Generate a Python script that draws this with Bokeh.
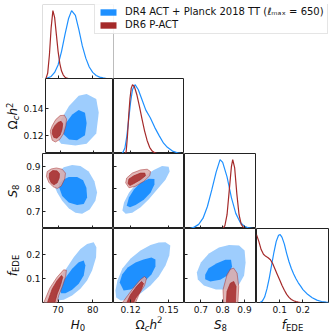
import numpy as np
from bokeh.plotting import figure
from bokeh.layouts import column, row
from bokeh.models import Range1d, FixedTicker, LinearAxis, Legend, LegendItem, Label, BoxAnnotation
from bokeh.embed import file_html
from bokeh.resources import INLINE

# ---------------- data ----------------
LEGEND_LABELS = ["DR4 ACT + Planck 2018 TT (ℓₘₐₓ = 650)", "DR6 P-ACT"]

H0_RANGE = (65.5, 86.0)
OMC_RANGE = (0.1065, 0.1625)
S8_RANGE = (0.625, 0.955)
FEDE_RANGE = (0.0, 0.31)
PDF_RANGE = (0.0, 1.09)

H0_TICKS = [70, 80]
OMC_XTICKS = [0.12, 0.15]
OMC_YTICKS = [0.12, 0.14]
S8_TICKS = [0.7, 0.8, 0.9]
FEDE_TICKS = [0.1, 0.2]

# 1D marginals
H0_GRID_BLUE = [66.5, 68, 69, 70, 71, 72, 73, 73.9, 75, 76, 77, 78, 79, 80, 81, 82, 83, 84]
H0_PDF_BLUE = [0.0, 0.03, 0.09, 0.2, 0.4, 0.65, 0.88, 1.0, 0.93, 0.72, 0.48, 0.3, 0.17, 0.09, 0.045, 0.02, 0.008, 0.0]
H0_GRID_RED = [66.5, 67, 67.5, 68, 68.5, 69, 69.5, 70, 70.5, 71, 71.5, 72, 72.5, 73]
H0_PDF_RED = [0.0, 0.08, 0.35, 0.75, 1.0, 0.9, 0.65, 0.4, 0.22, 0.11, 0.05, 0.02, 0.005, 0.0]

OMC_GRID_BLUE = [0.1135, 0.1155, 0.117, 0.1185, 0.120, 0.1215, 0.1235, 0.126, 0.129, 0.132, 0.1355, 0.139, 0.1425, 0.146, 0.149, 0.153, 0.157, 0.160]
OMC_PDF_BLUE = [0.0, 0.08, 0.25, 0.5, 0.75, 0.93, 1.0, 0.93, 0.78, 0.63, 0.52, 0.38, 0.26, 0.15, 0.09, 0.035, 0.01, 0.0]
OMC_GRID_RED = [0.1158, 0.1165, 0.1175, 0.1185, 0.1195, 0.1205, 0.1215, 0.123, 0.125, 0.127, 0.129, 0.131, 0.133, 0.135, 0.137, 0.139, 0.141]
OMC_PDF_RED = [0.0, 0.03, 0.25, 0.55, 0.8, 0.95, 1.0, 0.97, 0.85, 0.68, 0.5, 0.33, 0.19, 0.09, 0.035, 0.01, 0.0]

S8_GRID_BLUE = [0.65, 0.67, 0.69, 0.71, 0.73, 0.75, 0.77, 0.788, 0.80, 0.82, 0.84, 0.86, 0.88, 0.90, 0.92, 0.94]
S8_PDF_BLUE = [0.0, 0.02, 0.06, 0.15, 0.32, 0.56, 0.82, 1.0, 0.96, 0.75, 0.45, 0.22, 0.09, 0.03, 0.008, 0.0]
S8_GRID_RED = [0.80, 0.81, 0.82, 0.83, 0.84, 0.846, 0.855, 0.865, 0.875, 0.885, 0.895, 0.905]
S8_PDF_RED = [0.0, 0.04, 0.2, 0.55, 0.9, 1.0, 0.88, 0.5, 0.2, 0.06, 0.015, 0.0]

FEDE_GRID_BLUE = [0.015, 0.025, 0.035, 0.045, 0.055, 0.065, 0.075, 0.085, 0.095, 0.102, 0.11, 0.12, 0.13, 0.14, 0.15, 0.16, 0.17, 0.18, 0.19, 0.20, 0.22, 0.24, 0.26, 0.28, 0.30, 0.31]
FEDE_PDF_BLUE = [0.0, 0.02, 0.08, 0.2, 0.36, 0.55, 0.74, 0.9, 0.99, 1.0, 0.96, 0.86, 0.72, 0.6, 0.5, 0.42, 0.35, 0.29, 0.24, 0.19, 0.12, 0.07, 0.035, 0.015, 0.005, 0.002]
FEDE_GRID_RED = [0.0, 0.01, 0.02, 0.03, 0.04, 0.05, 0.06, 0.07, 0.08, 0.09, 0.10, 0.11, 0.12, 0.13, 0.14, 0.15, 0.16, 0.17, 0.18, 0.19]
FEDE_PDF_RED = [1.0, 0.9, 0.78, 0.71, 0.68, 0.66, 0.63, 0.57, 0.49, 0.41, 0.33, 0.25, 0.18, 0.12, 0.075, 0.045, 0.025, 0.012, 0.005, 0.0]

# 2D contours (outer = 95%, inner = 68%)
BLUE_H0_OMC_OUT_X = [68.76, 70.2, 74.5, 77.9, 80.8, 81.55, 80.8, 77.9, 75.5, 72.6, 70.2, 69.0]
BLUE_H0_OMC_OUT_Y = [0.1189, 0.1138, 0.1125, 0.1138, 0.1215, 0.1369, 0.1472, 0.151, 0.1497, 0.142, 0.1318, 0.1241]
BLUE_H0_OMC_IN_X = [70.69, 72.62, 75.01, 77.4, 77.9, 77.4, 75.5, 73.57, 71.64, 70.5]
BLUE_H0_OMC_IN_Y = [0.1215, 0.1169, 0.1164, 0.1202, 0.1292, 0.1369, 0.1389, 0.1356, 0.1292, 0.1241]
RED_H0_OMC_OUT_X = [67.14, 67.52, 68.47, 69.74, 70.98, 71.64, 71.84, 71.18, 69.91, 68.58, 67.52, 66.94]
RED_H0_OMC_OUT_Y = [0.1202, 0.1164, 0.1151, 0.1169, 0.1215, 0.1272, 0.1323, 0.1351, 0.1348, 0.1318, 0.1272, 0.1233]
RED_H0_OMC_IN_X = [67.52, 68.01, 68.96, 69.91, 70.49, 70.69, 70.2, 69.25, 68.3, 67.6]
RED_H0_OMC_IN_Y = [0.1215, 0.1185, 0.1179, 0.1202, 0.1246, 0.1287, 0.1305, 0.1297, 0.1272, 0.1241]

BLUE_H0_S8_OUT_X = [68.76, 69.74, 71.18, 73.08, 75.01, 76.94, 79.13, 80.77, 81.26, 80.48, 78.84, 76.45, 74.06, 71.64, 69.91, 68.96]
BLUE_H0_S8_OUT_Y = [0.8185, 0.783, 0.7468, 0.7142, 0.694, 0.6897, 0.7082, 0.7468, 0.783, 0.833, 0.876, 0.9, 0.9043, 0.8944, 0.8687, 0.8429]
BLUE_H0_S8_IN_X = [70.2, 71.18, 73.08, 75.5, 77.4, 78.38, 78.18, 77.23, 75.5, 73.08, 71.18, 70.31]
BLUE_H0_S8_IN_Y = [0.8112, 0.7682, 0.7399, 0.7283, 0.7326, 0.7614, 0.8043, 0.8369, 0.8515, 0.8515, 0.8369, 0.8227]
RED_H0_S8_OUT_X = [66.85, 66.65, 67.32, 68.58, 69.74, 70.89, 71.93, 72.13, 71.18, 69.53, 68.01]
RED_H0_S8_OUT_Y = [0.8755, 0.8541, 0.8283, 0.8086, 0.8013, 0.8112, 0.8429, 0.8687, 0.8858, 0.8914, 0.8871]
RED_H0_S8_IN_X = [67.52, 67.43, 68.01, 68.76, 69.74, 70.31, 70.4, 69.74, 68.47]
RED_H0_S8_IN_Y = [0.8687, 0.8472, 0.8258, 0.8172, 0.8258, 0.8472, 0.8657, 0.8785, 0.8798]

BLUE_H0_FEDE_OUT_X = [68.58, 69.25, 70.69, 72.62, 74.52, 76.45, 78.38, 80.28, 81.06, 80.97, 79.82, 78.38, 76.45, 74.06, 71.64, 69.74]
BLUE_H0_FEDE_OUT_Y = [0.0222, 0.0641, 0.106, 0.1479, 0.1898, 0.2245, 0.2455, 0.2522, 0.2313, 0.1893, 0.134, 0.0922, 0.0574, 0.0293, 0.0113, 0.0084]
BLUE_H0_FEDE_IN_X = [70.49, 71.18, 72.62, 74.06, 75.96, 77.4, 77.89, 77.4, 75.96, 74.06, 72.13, 70.89]
BLUE_H0_FEDE_IN_Y = [0.0574, 0.085, 0.1131, 0.1412, 0.1688, 0.176, 0.155, 0.1131, 0.0783, 0.0532, 0.039, 0.039]
RED_H0_FEDE_OUT_X = [65.6, 67.6, 69.7, 71.6, 72.4, 72.2, 71.2, 70.2, 69.5]
RED_H0_FEDE_OUT_Y = [-0.01, 0.06, 0.106, 0.137, 0.135, 0.11, 0.066, 0.03, -0.01]
RED_H0_FEDE_IN_X = [66.7, 68.3, 69.74, 70.98, 71.35, 70.69, 69.74, 68.9]
RED_H0_FEDE_IN_Y = [-0.01, 0.057, 0.092, 0.113, 0.106, 0.071, 0.036, -0.01]

BLUE_OMC_S8_OUT_X = [0.1135, 0.1148, 0.1187, 0.1239, 0.1304, 0.1383, 0.1448, 0.15, 0.1508, 0.1475, 0.1409, 0.1344, 0.1279, 0.1213, 0.1161]
BLUE_OMC_S8_OUT_Y = [0.7039, 0.7399, 0.7828, 0.8185, 0.8541, 0.8828, 0.9, 0.897, 0.8755, 0.84, 0.797, 0.7541, 0.7185, 0.694, 0.6897]
BLUE_OMC_S8_IN_X = [0.1169, 0.1187, 0.1226, 0.1278, 0.1343, 0.1388, 0.1388, 0.1357, 0.1304, 0.1239, 0.1195]
BLUE_OMC_S8_IN_Y = [0.7253, 0.7614, 0.797, 0.8258, 0.8442, 0.8429, 0.8185, 0.7828, 0.7511, 0.7283, 0.7185]
RED_OMC_S8_OUT_X = [0.1161, 0.1169, 0.1213, 0.1278, 0.1331, 0.1357, 0.1351, 0.1304, 0.1239, 0.1187]
RED_OMC_S8_OUT_Y = [0.8258, 0.8472, 0.8687, 0.8828, 0.8858, 0.8755, 0.8571, 0.8326, 0.8112, 0.8043]
RED_OMC_S8_IN_X = [0.1179, 0.1187, 0.1226, 0.1278, 0.1312, 0.1317, 0.1278, 0.1226, 0.1195]
RED_OMC_S8_IN_Y = [0.8227, 0.8429, 0.8571, 0.8687, 0.8687, 0.8571, 0.8399, 0.8227, 0.8142]

BLUE_OMC_FEDE_OUT_X = [0.108, 0.1096, 0.1135, 0.12, 0.1278, 0.1357, 0.1422, 0.1475, 0.1513, 0.1505, 0.1475, 0.1422, 0.1357, 0.1278, 0.12, 0.1122, 0.1086]
BLUE_OMC_FEDE_OUT_Y = [0.0503, 0.0922, 0.1424, 0.1843, 0.2178, 0.2409, 0.2514, 0.2526, 0.2388, 0.1969, 0.155, 0.1089, 0.0712, 0.0377, 0.0126, 0.0084, 0.021]
BLUE_OMC_FEDE_IN_X = [0.1114, 0.1133, 0.1177, 0.1239, 0.1302, 0.1364, 0.1396, 0.1396, 0.1364, 0.1317, 0.1263, 0.12, 0.1145]
BLUE_OMC_FEDE_IN_Y = [0.0838, 0.1173, 0.1466, 0.1676, 0.1801, 0.1885, 0.1801, 0.1508, 0.1173, 0.0922, 0.0712, 0.0545, 0.0503]
RED_OMC_FEDE_OUT_X = [0.1122, 0.1177, 0.1231, 0.1278, 0.131, 0.1325, 0.131, 0.127, 0.1231]
RED_OMC_FEDE_OUT_Y = [-0.01, 0.0293, 0.067, 0.0964, 0.1089, 0.1005, 0.0712, 0.0377, -0.01]
RED_OMC_FEDE_IN_X = [0.1161, 0.12, 0.1247, 0.1286, 0.1302, 0.1278, 0.1239, 0.1216]
RED_OMC_FEDE_IN_Y = [-0.01, 0.0335, 0.067, 0.088, 0.0796, 0.0461, 0.0168, -0.01]

BLUE_S8_FEDE_OUT_X = [0.6816, 0.70, 0.7369, 0.7829, 0.829, 0.8751, 0.9005, 0.905, 0.8981, 0.8751, 0.829, 0.7691, 0.7138, 0.6862]
BLUE_S8_FEDE_OUT_Y = [0.1257, 0.1676, 0.2053, 0.2304, 0.2409, 0.2388, 0.2179, 0.1676, 0.1131, 0.0754, 0.0545, 0.0545, 0.0712, 0.0964]
BLUE_S8_FEDE_IN_X = [0.7198, 0.7355, 0.7737, 0.812, 0.8382, 0.8429, 0.8276, 0.7889, 0.7429, 0.7198]
BLUE_S8_FEDE_IN_Y = [0.116, 0.1437, 0.1646, 0.1789, 0.1789, 0.1508, 0.116, 0.0951, 0.088, 0.0976]
RED_S8_FEDE_OUT_X = [0.8507, 0.8659, 0.8737, 0.8691, 0.8046, 0.8014, 0.8198, 0.835]
RED_S8_FEDE_OUT_Y = [0.1437, 0.1227, 0.067, -0.01, -0.01, 0.0532, 0.116, 0.1395]
RED_S8_FEDE_IN_X = [0.8166, 0.8198, 0.835, 0.8507, 0.8613, 0.8581]
RED_S8_FEDE_IN_Y = [-0.01, 0.0461, 0.0808, 0.088, 0.067, -0.01]

# ---------------- style / layout ----------------
BLUE = "#1E90FF"
BLUE_LIGHT = "#9ECDFD"
RED = "#A52A2A"
RED_LIGHT = "#DBAAAA"
FRAME = "#222222"
FONT = "DejaVu Sans"
TICK_SIZE = "9px"

STRIP_W = 20                 # strip holding the rotated y labels
TICK_W = 22                  # room for y tick labels
L = STRIP_W + TICK_W         # frames start at x=42
CW = [71, 71, 72, 72]        # column widths
RH = [74, 75, 75, 74]        # row heights
TOP = 4
RIGHT = 4
TICK_H = 14                  # room for x tick labels
STRIP_H = 17                 # strip holding x labels
TOTAL_W = L + sum(CW) + RIGHT


def make_fig(xr, yr, w, h, left=0, bottom=0, right=0, top=0, outline=True):
    p = figure(width=w, height=h, x_range=Range1d(*xr), y_range=Range1d(*yr),
               x_axis_type=None, y_axis_type=None,
               output_backend="svg", toolbar_location=None)
    p.min_border = 0
    p.min_border_left = left
    p.min_border_right = right
    p.min_border_top = top
    p.min_border_bottom = bottom
    p.outline_line_color = FRAME if outline else None
    p.outline_line_width = 1
    p.background_fill_color = "white"
    p.border_fill_color = "white"
    return p


def add_axis(p, side, ticks, labels, loc=None):
    ax = LinearAxis(ticker=FixedTicker(ticks=ticks))
    ax.major_tick_in = 3
    ax.major_tick_out = 0
    ax.minor_tick_in = 0
    ax.minor_tick_out = 0
    ax.axis_line_color = None
    ax.major_tick_line_color = FRAME
    ax.major_label_text_font = FONT
    ax.major_label_text_font_size = TICK_SIZE
    ax.major_label_standoff = 3 if side == "below" else 2
    if labels:
        ax.major_label_text_color = "#111111"
    else:
        ax.major_label_text_color = None
        ax.fixed_location = loc
    p.add_layout(ax, side)


EM = {"H": 0.752, "0": 0.636, "Ω": 0.764, "c": 0.55, "h": 0.634, "2": 0.636,
      "S": 0.635, "8": 0.636, "f": 0.352, "E": 0.632, "D": 0.770}


def tw(s, size):
    return sum(EM.get(ch, 0.6) for ch in s) * size


def rich_label(p, pieces, cx, cy, vertical):
    """Label made of pieces (text, size, style, shift) centred at cx/cy (strip pixels)."""
    total = sum(tw(t, s) for t, s, st, sh in pieces)
    pos = -total / 2.0
    for t, s, st, sh in pieces:
        kw = dict(text=t, text_font=FONT, text_font_size=f"{s}px",
                  text_font_style=st, text_align="left", text_baseline="alphabetic",
                  text_color="#111111")
        if vertical:
            lab = Label(x=cx - sh, y=cy + pos, angle=np.pi / 2, **kw)
        else:
            lab = Label(x=cx + pos, y=cy + sh, **kw)
        p.add_layout(lab)
        pos += tw(t, s)


LAB_H0 = [("H", 12, "italic", 0), ("0", 8.5, "normal", -3)]
LAB_OMC = [("Ω", 12, "normal", 0), ("c", 8.5, "italic", -2.5), ("h", 12, "italic", 0), ("2", 8.5, "normal", 4)]
LAB_S8 = [("S", 12, "italic", 0), ("8", 8.5, "normal", -2.5)]
LAB_FEDE = [("f", 12, "italic", 0), ("EDE", 8.5, "normal", -2.5)]
LAB_OMC_X = [("Ω", 12, "normal", 0), ("c", 8.5, "italic", -3), ("h", 12, "italic", 0), ("2", 8.5, "normal", 5)]
LAB_S8_X = [("S", 12, "italic", 0), ("8", 8.5, "normal", -3)]
LAB_FEDE_X = [("f", 12, "italic", 0), ("EDE", 8.5, "normal", -3)]


def line1d(p, xs, ys, color):
    p.line(xs, ys, line_color=color, line_width=1.2)


def contours(p, bo, bi, ro, ri):
    p.patch(bo[0], bo[1], fill_color=BLUE_LIGHT, line_color=None)
    p.patch(bi[0], bi[1], fill_color=BLUE, line_color=None)
    p.patch(ro[0], ro[1], fill_color=RED_LIGHT, fill_alpha=0.85, line_color=RED, line_width=0.7, line_alpha=0.7)
    p.patch(ri[0], ri[1], fill_color=RED, fill_alpha=0.85, line_color=RED, line_width=0.7)


def y_strip(height, label, bottom=0):
    s = make_fig((0, STRIP_W), (0, height - bottom), STRIP_W, height, bottom=bottom, outline=False)
    rich_label(s, label, STRIP_W - 7.5, (height - bottom) / 2.0, True)
    return s


# ---- row 0: H0 marginal with a wide frame that also hosts the legend ----
wide_w = TOTAL_W - L - RIGHT
h0_span = H0_RANGE[1] - H0_RANGE[0]
p00 = make_fig((H0_RANGE[0], H0_RANGE[0] + h0_span * wide_w / CW[0]), PDF_RANGE,
               TOTAL_W, RH[0] + TOP, left=L, right=RIGHT, top=TOP, outline=False)
p00.add_layout(BoxAnnotation(left=H0_RANGE[0], right=H0_RANGE[1], bottom=PDF_RANGE[0], top=PDF_RANGE[1],
                             fill_color=None, line_color=FRAME, line_width=1))
add_axis(p00, "below", H0_TICKS, False, PDF_RANGE[0])
line1d(p00, H0_GRID_BLUE, H0_PDF_BLUE, BLUE)
line1d(p00, H0_GRID_RED, H0_PDF_RED, RED)
# hidden filled proxies (areas under the marginals) that give the legend its colour patches
lb = p00.patch(H0_GRID_BLUE, H0_PDF_BLUE, fill_color=BLUE, line_color=None, visible=False)
lr = p00.patch(H0_GRID_RED, H0_PDF_RED, fill_color=RED, line_color=None, visible=False)
legend = Legend(items=[LegendItem(label=LEGEND_LABELS[0], renderers=[lb]),
                       LegendItem(label=LEGEND_LABELS[1], renderers=[lr])],
                location=(52, 44), glyph_width=20, glyph_height=8, label_height=11,
                label_standoff=7, spacing=2, padding=3, margin=0,
                label_text_font=FONT, label_text_font_size="10px", label_text_color="#111111",
                border_line_color="#cccccc", border_line_width=1,
                background_fill_color="white", background_fill_alpha=0.85,
                inactive_fill_alpha=0.0)
p00.add_layout(legend)

# ---- row 1 ----
p10 = make_fig(H0_RANGE, OMC_RANGE, TICK_W + CW[0], RH[1], left=TICK_W)
add_axis(p10, "below", H0_TICKS, False, OMC_RANGE[0])
add_axis(p10, "left", OMC_YTICKS, True)
contours(p10, (BLUE_H0_OMC_OUT_X, BLUE_H0_OMC_OUT_Y), (BLUE_H0_OMC_IN_X, BLUE_H0_OMC_IN_Y),
         (RED_H0_OMC_OUT_X, RED_H0_OMC_OUT_Y), (RED_H0_OMC_IN_X, RED_H0_OMC_IN_Y))

p11 = make_fig(OMC_RANGE, PDF_RANGE, CW[1], RH[1])
add_axis(p11, "below", OMC_XTICKS, False, PDF_RANGE[0])
line1d(p11, OMC_GRID_BLUE, OMC_PDF_BLUE, BLUE)
line1d(p11, OMC_GRID_RED, OMC_PDF_RED, RED)

# ---- row 2 ----
p20 = make_fig(H0_RANGE, S8_RANGE, TICK_W + CW[0], RH[2], left=TICK_W)
add_axis(p20, "below", H0_TICKS, False, S8_RANGE[0])
add_axis(p20, "left", S8_TICKS, True)
contours(p20, (BLUE_H0_S8_OUT_X, BLUE_H0_S8_OUT_Y), (BLUE_H0_S8_IN_X, BLUE_H0_S8_IN_Y),
         (RED_H0_S8_OUT_X, RED_H0_S8_OUT_Y), (RED_H0_S8_IN_X, RED_H0_S8_IN_Y))

p21 = make_fig(OMC_RANGE, S8_RANGE, CW[1], RH[2])
add_axis(p21, "below", OMC_XTICKS, False, S8_RANGE[0])
add_axis(p21, "left", S8_TICKS, False, OMC_RANGE[0])
contours(p21, (BLUE_OMC_S8_OUT_X, BLUE_OMC_S8_OUT_Y), (BLUE_OMC_S8_IN_X, BLUE_OMC_S8_IN_Y),
         (RED_OMC_S8_OUT_X, RED_OMC_S8_OUT_Y), (RED_OMC_S8_IN_X, RED_OMC_S8_IN_Y))

p22 = make_fig(S8_RANGE, PDF_RANGE, CW[2], RH[2])
add_axis(p22, "below", S8_TICKS, False, PDF_RANGE[0])
line1d(p22, S8_GRID_BLUE, S8_PDF_BLUE, BLUE)
line1d(p22, S8_GRID_RED, S8_PDF_RED, RED)

# ---- row 3 ----
p30 = make_fig(H0_RANGE, FEDE_RANGE, TICK_W + CW[0], RH[3] + TICK_H, left=TICK_W, bottom=TICK_H)
add_axis(p30, "below", H0_TICKS, True)
add_axis(p30, "left", FEDE_TICKS, True)
contours(p30, (BLUE_H0_FEDE_OUT_X, BLUE_H0_FEDE_OUT_Y), (BLUE_H0_FEDE_IN_X, BLUE_H0_FEDE_IN_Y),
         (RED_H0_FEDE_OUT_X, RED_H0_FEDE_OUT_Y), (RED_H0_FEDE_IN_X, RED_H0_FEDE_IN_Y))

p31 = make_fig(OMC_RANGE, FEDE_RANGE, CW[1], RH[3] + TICK_H, bottom=TICK_H)
add_axis(p31, "below", OMC_XTICKS, True)
add_axis(p31, "left", FEDE_TICKS, False, OMC_RANGE[0])
contours(p31, (BLUE_OMC_FEDE_OUT_X, BLUE_OMC_FEDE_OUT_Y), (BLUE_OMC_FEDE_IN_X, BLUE_OMC_FEDE_IN_Y),
         (RED_OMC_FEDE_OUT_X, RED_OMC_FEDE_OUT_Y), (RED_OMC_FEDE_IN_X, RED_OMC_FEDE_IN_Y))

p32 = make_fig(S8_RANGE, FEDE_RANGE, CW[2], RH[3] + TICK_H, bottom=TICK_H)
add_axis(p32, "below", S8_TICKS, True)
add_axis(p32, "left", FEDE_TICKS, False, S8_RANGE[0])
contours(p32, (BLUE_S8_FEDE_OUT_X, BLUE_S8_FEDE_OUT_Y), (BLUE_S8_FEDE_IN_X, BLUE_S8_FEDE_IN_Y),
         (RED_S8_FEDE_OUT_X, RED_S8_FEDE_OUT_Y), (RED_S8_FEDE_IN_X, RED_S8_FEDE_IN_Y))

p33 = make_fig(FEDE_RANGE, PDF_RANGE, CW[3] + RIGHT, RH[3] + TICK_H, bottom=TICK_H, right=RIGHT)
add_axis(p33, "below", FEDE_TICKS, True)
line1d(p33, FEDE_GRID_BLUE, FEDE_PDF_BLUE, BLUE)
line1d(p33, FEDE_GRID_RED, FEDE_PDF_RED, RED)

# ---- y-label strips, one per row, with the same borders as their row ----
s1 = y_strip(RH[1], LAB_OMC)
s2 = y_strip(RH[2], LAB_S8)
s3 = y_strip(RH[3] + TICK_H, LAB_FEDE, bottom=TICK_H)

# ---- x-label strip, with the same side borders as the top panel ----
bottom_strip = make_fig((L, TOTAL_W - RIGHT), (0, STRIP_H), TOTAL_W, STRIP_H,
                        left=L, right=RIGHT, outline=False)
col_left = np.cumsum([L] + CW[:-1])
for lab, x0, w in zip([LAB_H0, LAB_OMC_X, LAB_S8_X, LAB_FEDE_X], col_left, CW):
    rich_label(bottom_strip, lab, x0 + w / 2.0, 9, False)

layout = column(p00,
                row(s1, p10, p11),
                row(s2, p20, p21, p22),
                row(s3, p30, p31, p32, p33),
                bottom_strip)

open("out.html", "w").write(file_html(layout, INLINE))
